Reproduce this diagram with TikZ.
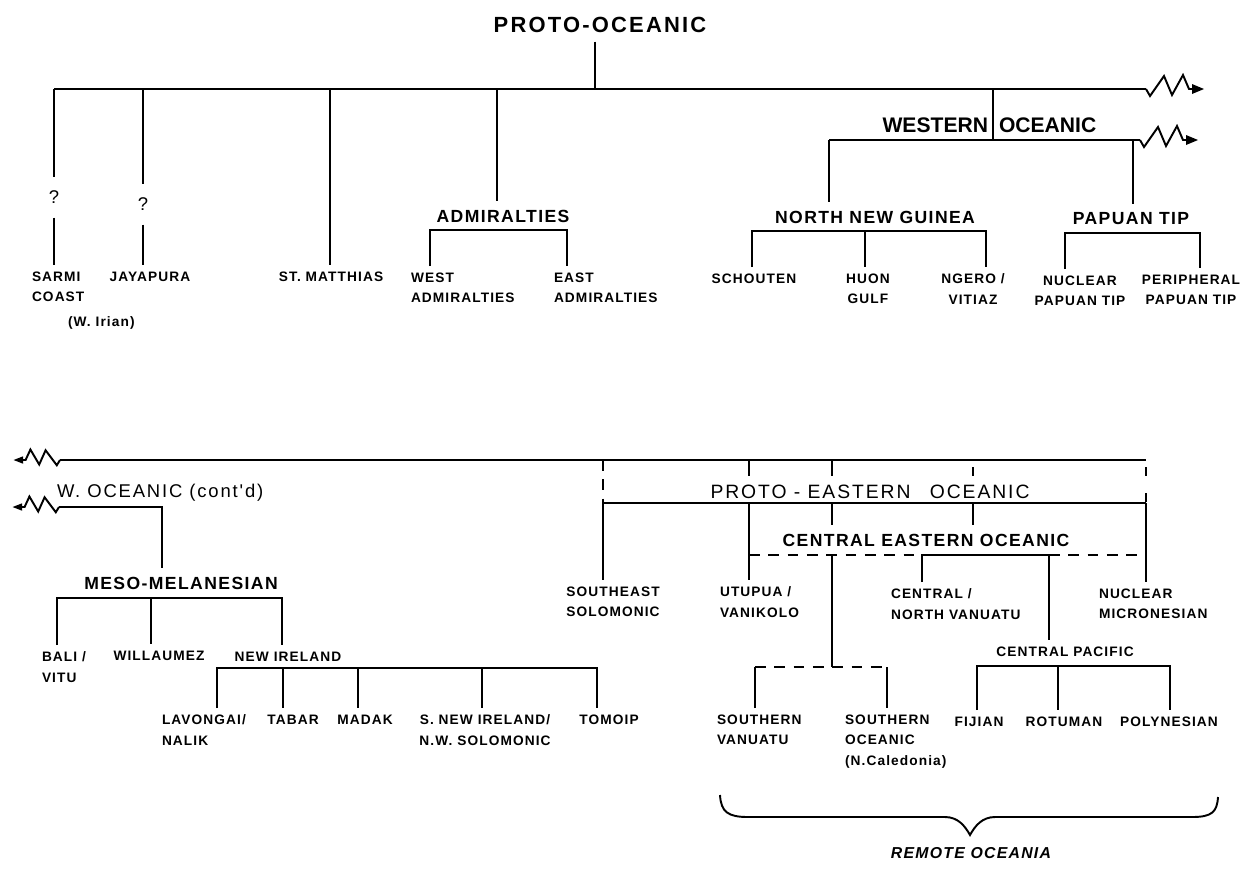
\documentclass[tikz,border=0pt]{standalone}
\usepackage{fontspec}
\setmainfont{Liberation Sans}[LetterSpace=8]
\newfontfamily\widefont{Liberation Sans}[LetterSpace=10]
\newfontfamily\plainfont{Liberation Sans}

\tikzset{
  leaf/.style={font=\bfseries\fontsize{7.8}{11.5}\selectfont, outer xsep=0pt, outer ysep=4pt},
  grp/.style={font=\bfseries\fontsize{10}{12}\selectfont, outer xsep=0pt, outer ysep=5pt},
  title/.style={font={\widefont\fontsize{#1}{14}\selectfont}, outer xsep=0pt, outer ysep=5pt},
  topttl/.style={font={\widefont\bfseries\fontsize{12.5}{14}\selectfont}, outer xsep=0pt, outer ysep=5pt},
  wolab/.style={font=\plainfont\bfseries\fontsize{12}{14}\selectfont, outer xsep=0pt},
  qmark/.style={font=\plainfont\fontsize{10.5}{12}\selectfont, outer ysep=8pt},
  dsh/.style={dash pattern=on 6pt off 5pt},
  zig/.pic={
    \draw (0,0) -- ++(4,-7) -- ++(14,20) -- ++(8,-19) -- ++(11,20) -- ++(6,-14) -- ++(4,0);
    \fill (46,5) -- (58,0) -- (46,-5) -- cycle;
  }
}

\begin{document}
\begin{tikzpicture}[x=0.02cm, y=0.02cm, line width=1.1pt]
  \tikzstyle{every node}+=[inner sep=0pt]
  \useasboundingbox (0,0) rectangle (1247,-870);

  % upper tree
  \node [topttl] (po) at (600,-25) {PROTO-OCEANIC};
  \coordinate (tb0) at (54,-89);
  \coordinate (tb1) at (1146,-89);
  \coordinate (jpo) at (595,-89);
  \coordinate (jja) at (143,-89);
  \coordinate (jsm) at (330,-89);
  \coordinate (jad) at (497,-89);
  \coordinate (jwo) at (993,-89);
  \draw (tb0) -- (tb1);
  \pic at (tb1) {zig};
  \draw (jpo |- po.south) -- (jpo);

  \node [qmark] (q1) at (54,-197) {?};
  \node [leaf, anchor=north west, align=left] (sarmi) at (32,-265) {SARMI\\COAST};
  \node [leaf, anchor=base west] (irian) at (68,-326) {(W. Irian)};
  \draw (tb0) -- (q1.north);
  \draw (q1.south) -- (q1.south |- sarmi.north);

  \node [qmark] (q2) at (143,-204) {?};
  \node [leaf, anchor=north] (jaya) at (150,-265) {JAYAPURA};
  \draw (jja) -- (q2.north);
  \draw (q2.south) -- (q2.south |- jaya.north);

  \node [leaf, anchor=north] (stm) at (331,-265) {ST. MATTHIAS};
  \draw (jsm) -- (jsm |- stm.north);

  \node [grp] (adm) at (503,-216) {ADMIRALTIES};
  \node [leaf, anchor=north west, align=left] (wadm) at (411,-266) {WEST\\ADMIRALTIES};
  \node [leaf, anchor=north west, align=left] (eadm) at (554,-266) {EAST\\ADMIRALTIES};
  \coordinate (admL) at (430,-230);
  \coordinate (admR) at (567,-230);
  \draw (jad) -- (jad |- adm.north);
  \draw (admL |- wadm.north) -- (admL) -- (admR) -- (admR |- eadm.north);

  % western oceanic
  \node [wolab, anchor=east] (wes) at (988,-125) {WESTERN};
  \node [wolab, anchor=west] (oce) at (999,-125) {OCEANIC};
  \coordinate (woL) at (829,-140);
  \coordinate (woJ) at (993,-140);
  \coordinate (woP) at (1133,-140);
  \coordinate (woR) at (1140,-140);
  \draw (jwo) -- (woJ);
  \draw (woL) -- (woR);
  \pic at (woR) {zig};

  \node [grp] (nng) at (875,-217) {NORTH NEW GUINEA};
  \node [leaf, anchor=north] (sch) at (754,-267) {SCHOUTEN};
  \node [leaf, anchor=north, align=center] (huon) at (868,-267) {HUON\\GULF};
  \node [leaf, anchor=north, align=center] (ngero) at (973,-267) {NGERO /\\VITIAZ};
  \coordinate (nngL) at (752,-231);
  \coordinate (nngM) at (865,-231);
  \coordinate (nngR) at (986,-231);
  \draw (woL) -- (woL |- nng.north);
  \draw (nngL |- sch.north) -- (nngL) -- (nngR) -- (nngR |- ngero.north);
  \draw (nngM) -- (nngM |- huon.north);

  \node [grp] (ptl) at (1131,-219) {PAPUAN TIP};
  \node [leaf, anchor=north, align=center] (nucpt) at (1080,-269) {NUCLEAR\\PAPUAN TIP};
  \node [leaf, anchor=north, align=center] (perpt) at (1191,-268) {PERIPHERAL\\PAPUAN TIP};
  \coordinate (ptL) at (1065,-233);
  \coordinate (ptR) at (1200,-233);
  \draw (woP) -- (woP |- ptl.north);
  \draw (ptL |- nucpt.north) -- (ptL) -- (ptR) -- (ptR |- perpt.north);

  % lower tree
  \coordinate (bb0) at (60,-460);
  \coordinate (bb1) at (1146,-460);
  \draw (bb0) -- (bb1);
  \pic [xscale=-0.8, yscale=0.75] at (bb0) {zig};

  \node [title=10.5, anchor=west] (wo2) at (57,-493) {W. OCEANIC (cont'd)};
  \node [grp] (meso) at (181,-583) {MESO-MELANESIAN};
  \coordinate (wc0) at (59,-507);
  \coordinate (wc1) at (162,-507);
  \draw (wc0) -- (wc1) -- (wc1 |- meso.north);
  \pic [xscale=-0.8, yscale=0.75] at (wc0) {zig};

  \node [leaf, anchor=north west, align=left] (bali) at (42,-645) {BALI /\\VITU};
  \node [leaf, anchor=north] (will) at (159,-644) {WILLAUMEZ};
  \node [leaf, anchor=north] (nire) at (288,-645) {NEW IRELAND};
  \coordinate (mmL) at (57,-598);
  \coordinate (mmM) at (151,-598);
  \coordinate (mmR) at (282,-598);
  \draw (mmL |- bali.north) -- (mmL) -- (mmR) -- (mmR |- nire.north);
  \draw (mmM) -- (mmM |- will.north);

  \node [leaf, anchor=north west, align=left] (lav) at (162,-708) {LAVONGAI/\\NALIK};
  \node [leaf, anchor=north] (tab) at (293,-708) {TABAR};
  \node [leaf, anchor=north] (mad) at (365,-708) {MADAK};
  \node [leaf, anchor=north, align=center] (sni) at (485,-708) {S. NEW IRELAND/\\N.W. SOLOMONIC};
  \node [leaf, anchor=north] (tom) at (609,-708) {TOMOIP};
  \coordinate (niL) at (217,-668);
  \coordinate (niR) at (597,-668);
  \draw (niL |- lav.north) -- (niL) -- (niR) -- (niR |- tom.north);
  \foreach \nx/\nn in {283/tab, 358/mad, 482/sni} {
    \coordinate (d) at (\nx,-668);
    \draw (d) -- (d |- \nn.north);
  }

  % proto-eastern oceanic
  \node [title=11] (peo) at (870,-492) {PROTO - EASTERN\quad OCEANIC};
  \coordinate (pe0) at (603,-503);
  \coordinate (pe1) at (1146,-503);
  \draw (pe0) -- (pe1);
  \draw [dsh] (pe0 |- bb1) -- (pe0);
  \draw [dash pattern=on 0pt off 4pt on 5pt off 6pt] (bb1) -- (pe1);
  \foreach \tx in {749, 832} {
    \coordinate (t) at (\tx,-460);
    \draw (t) -- (t |- peo.north);
  }
  \coordinate (t4) at (973,-460);
  \draw [dash pattern=on 0pt off 4pt on 5pt off 20pt] (t4) -- (t4 |- peo.north);

  \node [grp] (ceo) at (926,-540) {CENTRAL EASTERN OCEANIC};
  \node [leaf, anchor=north, align=center] (ses) at (613,-580) {SOUTHEAST\\SOLOMONIC};
  \node [leaf, anchor=north west, align=left] (utu) at (720,-580) {UTUPUA /\\VANIKOLO};
  \node [leaf, anchor=north west, align=left] (nmi) at (1099,-582) {NUCLEAR\\MICRONESIAN};
  \coordinate (pu) at (749,-503);
  \coordinate (pc) at (832,-503);
  \coordinate (pn) at (973,-503);
  \draw (pe0) -- (pe0 |- ses.north);
  \draw (pu) -- (pu |- utu.north);
  \draw (pe1) -- (pe1 |- nmi.north);
  \draw (pc) -- (pc |- ceo.north);
  \draw (pn) -- (pn |- ceo.north);

  \node [leaf, anchor=north west, align=left] (cnv) at (891,-582) {CENTRAL /\\NORTH VANUATU};
  \node [leaf, anchor=north] (cp) at (1065,-640) {CENTRAL PACIFIC};
  \coordinate (ce0) at (749,-555);
  \coordinate (cec) at (832,-555);
  \coordinate (cev) at (922,-555);
  \coordinate (cep) at (1049,-555);
  \coordinate (ce1) at (1138,-555);
  \draw [dsh] (ce0) -- (cev);
  \draw [dsh] (cep) -- (ce1);
  \draw (cev |- cnv.north) -- (cev) -- (cep) -- (cep |- cp.north);

  \node [leaf, anchor=north west, align=left] (sov) at (717,-708) {SOUTHERN\\VANUATU};
  \node [leaf, anchor=north west, align=left] (soo) at (845,-708) {SOUTHERN\\OCEANIC\\(N.Caledonia)};
  \coordinate (soL) at (755,-667);
  \coordinate (soM) at (832,-667);
  \coordinate (soR) at (887,-667);
  \draw (cec) -- (soM);
  \draw (soL |- sov.north) -- (soL);
  \draw [dsh] (soL) -- (soR);
  \draw (soR) -- (soR |- soo.north);

  \node [leaf, anchor=north] (fij) at (979,-710) {FIJIAN};
  \node [leaf, anchor=north] (rot) at (1064,-710) {ROTUMAN};
  \node [leaf, anchor=north] (pol) at (1169,-710) {POLYNESIAN};
  \coordinate (cpL) at (977,-666);
  \coordinate (cpM) at (1058,-666);
  \coordinate (cpR) at (1170,-666);
  \draw (cpL |- fij.north) -- (cpL) -- (cpR) -- (cpR |- pol.north);
  \draw (cpM) -- (cpM |- rot.north);

  % brace
  \coordinate (rbL) at (720,-795);
  \coordinate (rbR) at (1218,-797);
  \coordinate (rbT) at (970,-835);
  \draw (rbL) .. controls (721,-812) and (728,-817) .. (748,-817) -- (945,-817)
    .. controls (958,-817) and (965,-826) .. (rbT)
    .. controls (975,-826) and (982,-817) .. (995,-817) -- (1192,-817)
    .. controls (1212,-817) and (1217,-812) .. (rbR);
  \node [font=\bfseries\itshape\fontsize{9}{11}\selectfont] (ro) at (971,-853) {REMOTE OCEANIA};
\end{tikzpicture}
\end{document}
